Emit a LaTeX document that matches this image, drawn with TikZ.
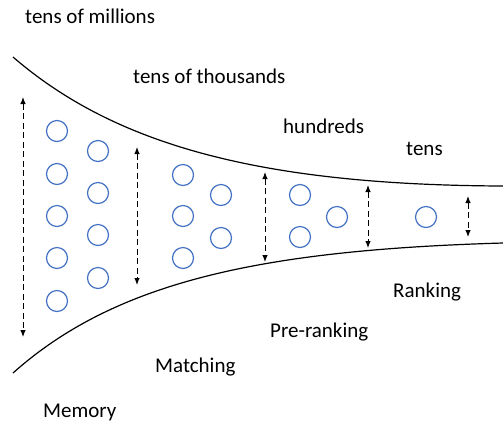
\documentclass[tikz,border=0pt]{standalone}
\usepackage{fontspec}
\setmainfont{Carlito}
\usepackage{tikz}
\usetikzlibrary{arrows.meta}
\definecolor{itemblue}{HTML}{4472C4}

\begin{document}
\begin{tikzpicture}[x=1bp,y=-1bp,every node/.style = {font=\fontsize{21bp}{25bp}\selectfont, inner sep=0pt, anchor=base west},item/.style = {circle, draw=itemblue, line width=1.2bp, minimum size=21bp, anchor=center},funnel/.style = {line width=1.2bp, black},span/.style = {{Latex[length=7bp,width=5.5bp]}-{Latex[length=7bp,width=5.5bp]}, line width=1bp, dash pattern=on 6bp off 3.5bp}]
\useasboundingbox (0,0) rectangle (503,423);
% funnel walls
\draw[funnel] (13,57) .. controls (115,145) and (260,185) .. (503,186);
\draw[funnel] (13,373) .. controls (115,282) and (260,250) .. (503,243);
% labels above
\node(top;0) at (25,23) {tens of millions};
  \node(top;1) at (133,83) {tens of thousands};
  \node(top;2) at (283,133) {hundreds};
  \node(top;3) at (406,155) {tens};
% labels below
\node(bot;0) at (43,417) {Memory};
  \node(bot;1) at (155,372) {Matching};
  \node(bot;2) at (270,337) {Pre-ranking};
  \node(bot;3) at (393,297) {Ranking};
% candidates
\foreach \j/\y in {1/131,2/174,3/216,4/258,5/301}
  { \node[item](0;\j) at (57,\y) {}; }
\foreach \j/\y in {1/151,2/193,3/235,4/278}
  { \node[item](1;\j) at (98,\y) {}; }
\foreach \j/\y in {1/175,2/216,3/258}
  { \node[item](2;\j) at (183,\y) {}; }
\foreach \j/\y in {1/195,2/238}
  { \node[item](3;\j) at (221,\y) {}; }
\foreach \j/\y in {1/195,2/237}
  { \node[item](4;\j) at (300,\y) {}; }
\node[item](5;1) at (337,217) {};
\node[item](6;1) at (426,217) {};
% widths
\foreach \i/\x/\a/\b in {0/23/97/337,1/137/147/285,2/265/172/262,3/368/185/248,4/468/196/237}
  { \coordinate(up;\i) at (\x,\a); \coordinate(dn;\i) at (\x,\b);
    \draw[span] (up;\i) -- (dn;\i); }
\end{tikzpicture}
\end{document}
